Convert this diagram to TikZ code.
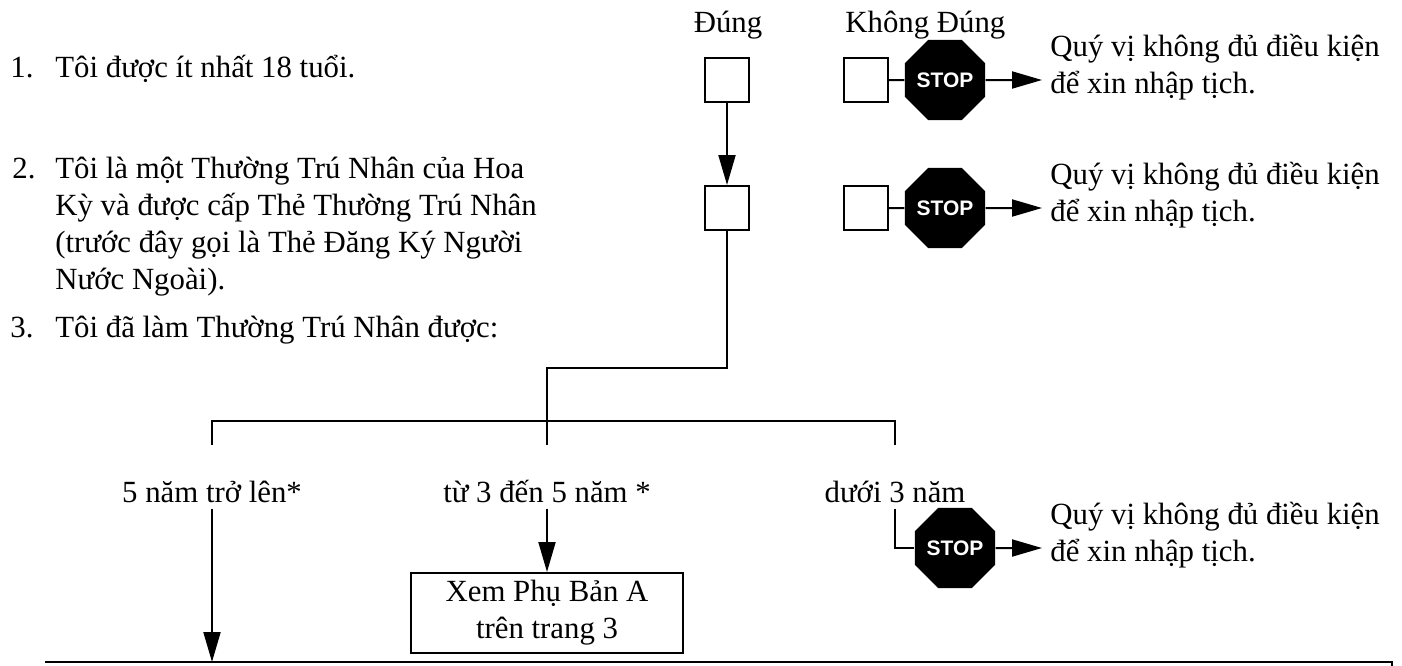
\documentclass[tikz,border=0pt]{standalone}
\usepackage{fontspec}
\setmainfont{Liberation Serif}
\setsansfont{Liberation Sans}
\usetikzlibrary{shapes.geometric,arrows.meta}

\tikzset{
  txt/.style={font=\fontsize{15.4}{18.5}\selectfont, inner sep=0pt},
  label/.style={txt, inner ysep=3pt},
  tickbox/.style={draw, line width=1pt, minimum size=22pt, inner sep=0pt},
  stopsign/.style={regular polygon, regular polygon sides=8, fill=black, minimum size=34pt,
    inner sep=0pt, text=white, font=\sffamily\bfseries\fontsize{10.5}{12}\selectfont},
  arr/.style={line width=1pt, -{Triangle[length=15pt,width=8.5pt]}},
  ln/.style={line width=1pt}
}

\begin{document}
\begin{tikzpicture}[x=0.5pt,y=-0.5pt]
\useasboundingbox (0,0) rectangle (1402,665);
% column heads
\node[txt,anchor=base] (yes) at (728,32) {Đúng};
\node[txt,anchor=base west] (no) at (845,32) {Không Đúng};
% questions
\node[txt,anchor=base west] (n1) at (10,77) {1.};
\node[txt,anchor=base west] (q1) at (55,77) {Tôi được ít nhất 18 tuổi.};
\node[txt,anchor=base west] (n2) at (12,178) {2.};
% base of a multi-line node is its last line
\node[txt,anchor=base west,align=left] (q2) at (55,289) {Tôi là một Thường Trú Nhân của Hoa\\Kỳ và được cấp Thẻ Thường Trú Nhân\\(trước đây gọi là Thẻ Đăng Ký Người\\Nước Ngoài).};
\node[txt,anchor=base west] (n3) at (10,337) {3.};
\node[txt,anchor=base west] (q3) at (55,337) {Tôi đã làm Thường Trú Nhân được:};
% row 1
\node[tickbox] (b1) at (727,80) {};
\node[tickbox] (c1) at (866,80) {};
\node[stopsign] (s1) at (945,80) {STOP};
\coordinate (e1) at (1042,80);
\node[txt,anchor=west,align=left] (r1) at (1050,67) {Quý vị không đủ điều kiện\\để xin nhập tịch.};
\path[draw,ln] (c1) -- (s1);
\path[draw,arr] (s1) -- (e1);
% row 2
\node[tickbox] (b2) at (727,208) {};
\node[tickbox] (c2) at (866,208) {};
\node[stopsign] (s2) at (945,208) {STOP};
\coordinate (e2) at (1042,208);
\node[txt,anchor=west,align=left] (r2) at (1050,195) {Quý vị không đủ điều kiện\\để xin nhập tịch.};
\path[draw,ln] (c2) -- (s2);
\path[draw,arr] (s2) -- (e2);
\path[draw,arr] (b1) -- (b2);
% row 3 split
\coordinate (k1) at (547,368);
\coordinate (lb) at (212,445);
\coordinate (mb) at (547,445);
\coordinate (rb) at (895,445);
\path[draw,ln] (b2) |- (k1) -- (mb);
\path[draw,ln] (lb) -- ++(0,-24) -| (rb);
\node[label,anchor=base] (a1) at (212,502) {5 năm trở lên*};
\node[label,anchor=base] (a2) at (547,502) {từ 3 đến 5 năm *};
\node[label,anchor=base] (a3) at (895,502) {dưới 3 năm};
\node[txt,draw,line width=1pt,align=center,minimum width=136pt,minimum height=40pt] (xem) at (547,613) {Xem Phụ Bản A\\trên trang 3};
\node[stopsign] (s3) at (955,548) {STOP};
\coordinate (e3) at (1042,548);
\node[txt,anchor=west,align=left] (r3) at (1050,535) {Quý vị không đủ điều kiện\\để xin nhập tịch.};
\coordinate (f1) at (45,662);
\coordinate (f2) at (1392,662);
\coordinate (f3) at (212,662);
\path[draw,arr] (a1) -- (f3);
\path[draw,arr] (a2) -- (xem);
\path[draw,ln] (a3) |- (s3);
\path[draw,arr] (s3) -- (e3);
\path[draw,ln] (f1) -- (f2) -- ++(0,5);
\end{tikzpicture}
\end{document}
